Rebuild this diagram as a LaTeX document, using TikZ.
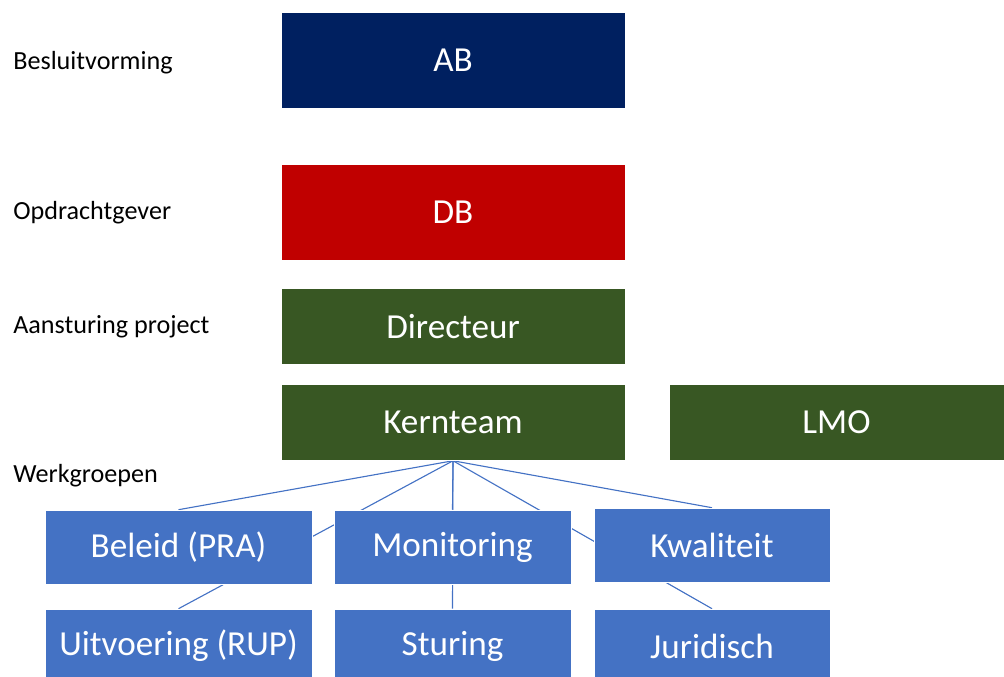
\documentclass[tikz,border=0pt]{standalone}
\usepackage{fontspec}
\setmainfont{Carlito}
\usetikzlibrary{backgrounds}
\definecolor{abnavy}{HTML}{002060}
\definecolor{dbred}{HTML}{C00000}
\definecolor{teamgreen}{HTML}{385723}
\definecolor{groupblue}{HTML}{4472C4}
\begin{document}
\begin{tikzpicture}[
    level/.style={anchor=west,inner sep=0pt,font=\fontsize{18.6}{22}\selectfont},
    box/.style={draw=white,line width=0.4pt,text=white,inner sep=0pt,minimum width=8.6cm,font=\fontsize{25}{30}\selectfont},
    group/.style={box,fill=groupblue,minimum height=1.85cm},
    link/.style={draw=groupblue,line width=0.8pt}]
\useasboundingbox (0,0) rectangle (25.1,16.925);
\node[level] (besluit) at (0.325,15.35){Besluitvorming};
\node[level] (opdracht) at (0.325,11.6){Opdrachtgever};
\node[level] (aansturing) at (0.325,8.75){Aansturing project};
\node[level] (werk) at (0.325,5.025){Werkgroepen};
\node[box,fill=abnavy,minimum height=2.4cm] (ab) at (11.325,15.425){AB};
\node[box,fill=dbred,minimum height=2.4cm] (db) at (11.325,11.625){DB};
\node[box,fill=teamgreen,minimum height=1.9cm] (dir) at (11.325,8.7625){Directeur};
\node[box,fill=teamgreen,minimum height=1.9cm] (kern) at (11.325,6.3625){Kernteam};
\node[box,fill=teamgreen,minimum height=1.9cm,minimum width=8.375cm] (lmo) at (20.9125,6.3625){LMO};
\node[group,minimum width=6.675cm] (beleid) at (4.4625,3.25){Beleid (PRA)};
\node[group,minimum width=5.925cm] (monitor) at (11.3125,3.25){Monitoring};
\node[group,minimum width=5.9cm] (kwal) at (17.8,3.3){Kwaliteit};
\node[group,minimum width=6.675cm] (uitv) at (4.4625,0.775){Uitvoering (RUP)};
\node[group,minimum width=5.925cm] (sturing) at (11.3125,0.775){Sturing};
\node[group,minimum width=5.9cm] (jur) at (17.8,0.775){Juridisch};
\begin{scope}[on background layer]
\foreach \g in {beleid,uitv,monitor,sturing,kwal,jur}
    \draw[link] (kern.south)--(\g.north);
\end{scope}
\end{tikzpicture}
\end{document}
